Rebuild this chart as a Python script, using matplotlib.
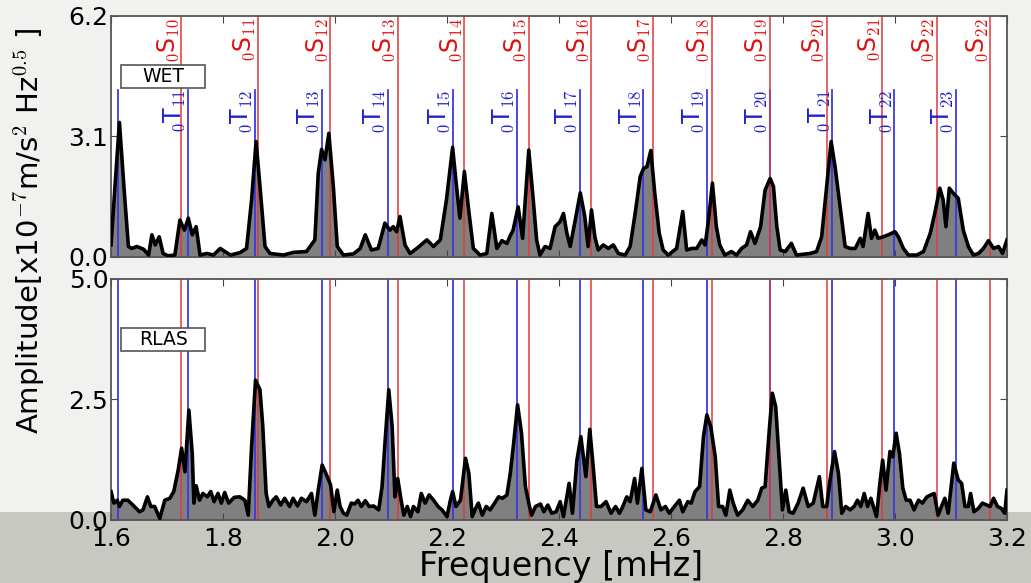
import matplotlib
matplotlib.use("Agg")
import matplotlib.pyplot as plt
from matplotlib.patches import Rectangle

plt.rcParams['mathtext.fontset'] = 'cm'

# WET spectrum (frequency in mHz, amplitude)
wet_freq = [
    1.600, 1.607, 1.615, 1.623, 1.631, 1.637, 1.646, 1.658, 1.667, 1.673,
    1.679, 1.686, 1.693, 1.702, 1.714, 1.723, 1.731, 1.738, 1.745, 1.752,
    1.759, 1.771, 1.783, 1.795, 1.813, 1.830, 1.842, 1.851, 1.859, 1.866,
    1.875, 1.884, 1.908, 1.926, 1.949, 1.964, 1.970, 1.976, 1.982, 1.989,
    1.997, 2.004, 2.015, 2.033, 2.045, 2.054, 2.065, 2.077, 2.089, 2.098,
    2.104, 2.110, 2.116, 2.125, 2.134, 2.146, 2.164, 2.176, 2.188, 2.199,
    2.210, 2.217, 2.223, 2.231, 2.238, 2.247, 2.259, 2.271, 2.280, 2.289,
    2.298, 2.307, 2.313, 2.318, 2.327, 2.335, 2.346, 2.354, 2.360, 2.366,
    2.375, 2.384, 2.393, 2.402, 2.408, 2.414, 2.420, 2.429, 2.438, 2.446,
    2.452, 2.458, 2.464, 2.470, 2.479, 2.488, 2.497, 2.506, 2.518, 2.527,
    2.536, 2.545, 2.551, 2.557, 2.564, 2.571, 2.579, 2.586, 2.595, 2.610,
    2.621, 2.628, 2.637, 2.646, 2.655, 2.661, 2.667, 2.674, 2.681, 2.687,
    2.696, 2.708, 2.717, 2.726, 2.735, 2.742, 2.750, 2.760, 2.768, 2.777,
    2.783, 2.789, 2.795, 2.804, 2.815, 2.824, 2.848, 2.860, 2.869, 2.878,
    2.886, 2.893, 2.902, 2.911, 2.920, 2.929, 2.938, 2.943, 2.952, 2.958,
    2.964, 2.970, 2.979, 2.988, 3.000, 3.006, 3.015, 3.024, 3.039, 3.051,
    3.063, 3.071, 3.080, 3.086, 3.091, 3.097, 3.104, 3.113, 3.122, 3.131,
    3.140, 3.149, 3.158, 3.167, 3.176, 3.185, 3.192, 3.200,
]
wet_amp = [
    0.31, 1.81, 3.46, 1.81, 0.27, 0.22, 0.27, 0.20, 0.05, 0.57,
    0.31, 0.52, 0.09, 0.03, 0.05, 0.95, 0.69, 1.00, 0.57, 0.78,
    0.05, 0.09, 0.05, 0.22, 0.05, 0.11, 0.22, 1.47, 2.97, 1.81,
    0.27, 0.09, 0.05, 0.12, 0.14, 0.44, 2.15, 2.77, 2.50, 3.18,
    1.81, 0.27, 0.05, 0.08, 0.22, 0.57, 0.18, 0.22, 0.87, 0.69,
    0.78, 0.65, 1.04, 0.31, 0.09, 0.22, 0.44, 0.27, 0.44, 1.47,
    2.82, 1.81, 1.00, 2.20, 1.29, 0.22, 0.05, 0.09, 1.12, 0.22,
    0.42, 0.35, 0.55, 0.69, 1.29, 0.48, 2.75, 1.47, 0.44, 0.05,
    0.27, 0.22, 0.78, 0.91, 1.12, 0.61, 0.27, 0.95, 1.65, 1.04,
    0.27, 1.21, 0.52, 0.18, 0.31, 0.22, 0.31, 0.09, 0.05, 0.27,
    1.12, 2.07, 2.28, 2.32, 2.74, 1.64, 0.61, 0.18, 0.05, 0.22,
    1.17, 0.18, 0.22, 0.22, 0.44, 0.31, 0.95, 1.90, 0.78, 0.31,
    0.05, 0.14, 0.05, 0.22, 0.31, 0.65, 0.35, 0.78, 1.72, 2.02,
    1.81, 0.78, 0.18, 0.14, 0.35, 0.05, 0.09, 0.14, 0.52, 1.81,
    2.97, 2.32, 1.29, 0.27, 0.22, 0.22, 0.48, 0.27, 1.12, 0.48,
    0.69, 0.48, 0.52, 0.57, 0.65, 0.52, 0.22, 0.05, 0.05, 0.14,
    0.61, 1.12, 1.77, 1.47, 0.78, 1.77, 1.64, 1.51, 0.69, 0.27,
    0.05, 0.09, 0.22, 0.42, 0.22, 0.27, 0.09, 0.44,
]

# RLAS spectrum
rlas_freq = [
    1.600, 1.605, 1.611, 1.615, 1.621, 1.630, 1.639, 1.651, 1.657, 1.665,
    1.671, 1.678, 1.687, 1.696, 1.705, 1.712, 1.720, 1.726, 1.732, 1.739,
    1.745, 1.748, 1.752, 1.758, 1.764, 1.772, 1.778, 1.784, 1.791, 1.797,
    1.803, 1.810, 1.820, 1.830, 1.839, 1.845, 1.851, 1.858, 1.866, 1.871,
    1.877, 1.882, 1.889, 1.895, 1.903, 1.910, 1.919, 1.925, 1.933, 1.940,
    1.949, 1.958, 1.964, 1.970, 1.977, 1.985, 1.992, 1.998, 2.004, 2.009,
    2.015, 2.021, 2.029, 2.035, 2.041, 2.047, 2.054, 2.061, 2.069, 2.078,
    2.084, 2.090, 2.096, 2.102, 2.107, 2.112, 2.118, 2.123, 2.129, 2.135,
    2.140, 2.148, 2.154, 2.161, 2.168, 2.176, 2.184, 2.191, 2.200, 2.206,
    2.210, 2.216, 2.224, 2.233, 2.239, 2.245, 2.251, 2.256, 2.263, 2.270,
    2.277, 2.285, 2.292, 2.299, 2.307, 2.313, 2.319, 2.326, 2.333, 2.340,
    2.346, 2.351, 2.358, 2.367, 2.373, 2.380, 2.387, 2.395, 2.402, 2.408,
    2.418, 2.424, 2.432, 2.439, 2.448, 2.455, 2.461, 2.467, 2.475, 2.484,
    2.493, 2.501, 2.508, 2.514, 2.521, 2.527, 2.535, 2.540, 2.548, 2.555,
    2.563, 2.573, 2.582, 2.590, 2.597, 2.606, 2.615, 2.621, 2.630, 2.636,
    2.643, 2.651, 2.658, 2.664, 2.671, 2.679, 2.685, 2.692, 2.698, 2.705,
    2.711, 2.719, 2.728, 2.737, 2.746, 2.755, 2.762, 2.768, 2.776, 2.781,
    2.787, 2.795, 2.799, 2.805, 2.811, 2.818, 2.827, 2.836, 2.845, 2.854,
    2.865, 2.871, 2.878, 2.884, 2.892, 2.899, 2.905, 2.912, 2.920, 2.927,
    2.933, 2.939, 2.945, 2.951, 2.957, 2.967, 2.973, 2.978, 2.984, 2.991,
    2.996, 3.002, 3.008, 3.014, 3.020, 3.027, 3.034, 3.042, 3.049, 3.057,
    3.064, 3.070, 3.077, 3.083, 3.089, 3.095, 3.105, 3.113, 3.119, 3.125,
    3.131, 3.135, 3.141, 3.149, 3.156, 3.164, 3.170, 3.176, 3.183, 3.190,
    3.196, 3.200,
]
rlas_amp = [
    0.59, 0.35, 0.41, 0.28, 0.41, 0.41, 0.31, 0.17, 0.21, 0.48,
    0.28, 0.28, 0.03, 0.41, 0.45, 0.59, 1.04, 1.49, 1.00, 2.28,
    1.38, 0.35, 0.71, 0.41, 0.55, 0.48, 0.59, 0.38, 0.55, 0.35,
    0.57, 0.35, 0.47, 0.48, 0.41, 0.10, 1.52, 2.90, 2.70, 1.94,
    0.55, 0.28, 0.41, 0.48, 0.31, 0.45, 0.28, 0.45, 0.29, 0.45,
    0.38, 0.55, 0.10, 0.62, 1.14, 0.93, 0.73, 0.17, 0.62, 0.28,
    0.14, 0.10, 0.35, 0.33, 0.41, 0.28, 0.40, 0.28, 0.29, 0.21,
    0.69, 1.73, 2.70, 1.94, 0.48, 0.86, 0.41, 0.10, 0.28, 0.07,
    0.28, 0.17, 0.55, 0.35, 0.52, 0.41, 0.28, 0.21, 0.07, 0.41,
    0.59, 0.28, 0.41, 1.28, 0.97, 0.07, 0.24, 0.35, 0.10, 0.28,
    0.21, 0.35, 0.48, 0.45, 0.52, 0.97, 1.59, 2.39, 1.80, 0.69,
    0.35, 0.10, 0.28, 0.33, 0.17, 0.31, 0.14, 0.17, 0.38, 0.07,
    0.76, 0.14, 1.24, 1.73, 0.90, 1.88, 1.11, 0.28, 0.28, 0.38,
    0.14, 0.28, 0.14, 0.28, 0.48, 0.38, 0.86, 0.35, 1.07, 0.21,
    0.17, 0.52, 0.21, 0.28, 0.14, 0.28, 0.41, 0.17, 0.38, 0.35,
    0.59, 0.69, 1.73, 2.18, 1.94, 1.31, 0.28, 0.28, 0.10, 0.62,
    0.35, 0.10, 0.21, 0.41, 0.28, 0.41, 0.66, 0.69, 1.94, 2.63,
    2.35, 0.90, 0.21, 0.62, 0.17, 0.14, 0.35, 0.66, 0.28, 0.35,
    0.90, 0.28, 0.28, 0.83, 1.42, 0.97, 0.14, 0.28, 0.21, 0.28,
    0.41, 0.28, 0.55, 0.28, 0.45, 0.07, 0.76, 1.24, 0.62, 1.42,
    1.31, 1.80, 1.38, 0.66, 0.41, 0.41, 0.21, 0.41, 0.35, 0.48,
    0.52, 0.55, 0.10, 0.28, 0.45, 0.14, 1.18, 0.83, 0.76, 0.28,
    0.28, 0.55, 0.17, 0.24, 0.35, 0.31, 0.28, 0.45, 0.28, 0.24,
    0.14, 0.62,
]

# spheroidal (red) and toroidal (blue) mode frequencies
s_freq = [1.7255, 1.8625, 1.9915, 2.1125, 2.231, 2.346, 2.458, 2.567,
          2.6725, 2.776, 2.878, 2.977, 3.075, 3.170]
s_names = ['10', '11', '12', '13', '14', '15', '16', '17', '18', '19',
           '20', '21', '22', '22']
t_freq = [1.613, 1.7375, 1.8565, 1.976, 2.094, 2.210, 2.325, 2.4375,
          2.5505, 2.6635, 2.776, 2.888, 2.999, 3.109]
t_names = ['', '11', '12', '13', '14', '15', '16', '17', '18', '19',
           '20', '21', '22', '23']

x_ticks = [1.6, 1.8, 2.0, 2.2, 2.4, 2.6, 2.8, 3.0, 3.2]
wet_yticks = [0.0, 3.1, 6.2]
rlas_yticks = [0.0, 2.5, 5.0]
t_line_top = 4.3

fig = plt.figure(figsize=(10.31, 5.83), dpi=100, facecolor='#f1f1ef')
fig.patches.append(Rectangle((0, 0), 1, 71 / 583, transform=fig.transFigure,
                             facecolor='#c8c8c2', edgecolor='none', zorder=-1))

ax1 = fig.add_axes([0.1077, 0.5592, 0.869, 0.4134])
ax2 = fig.add_axes([0.1077, 0.1081, 0.869, 0.4134])

red = '#e03a3a'
blue = '#3a3ae0'


def draw_panel(ax, freq, amp, ymax, yticks, name, blue_top):
    ax.set_xlim(1.6, 3.2)
    ax.set_ylim(0, ymax)
    ax.fill_between(freq, 0, amp, color='#808080', lw=0, zorder=1)
    for f in t_freq:
        ax.plot([f, f], [0, blue_top], color=blue, lw=1.3, zorder=2)
    for f in s_freq:
        ax.axvline(f, color=red, lw=1.3, alpha=0.85, zorder=2)
    ax.plot(freq, amp, color='black', lw=2.6, zorder=3)
    ax.set_xticks(x_ticks)
    ax.set_yticks(yticks)
    ax.set_yticklabels(['%.1f' % v for v in yticks])
    ax.tick_params(direction='in', top=True, right=True, length=5,
                   labelsize=18, color='#444444')
    ax.tick_params(axis='y', pad=2)
    ax.tick_params(axis='x', pad=5)
    for sp in ax.spines.values():
        sp.set_color('#555555')
        sp.set_linewidth(1.3)
    ax.add_patch(Rectangle((0.011, 0.70), 0.094, 0.095, transform=ax.transAxes,
                           facecolor='white', edgecolor='#555555', lw=1.2,
                           zorder=4))
    ax.text(0.058, 0.748, name, transform=ax.transAxes, ha='center',
            va='center', fontsize=13.5, zorder=5)


draw_panel(ax1, wet_freq, wet_amp, 6.2, wet_yticks, 'WET', t_line_top)
draw_panel(ax2, rlas_freq, rlas_amp, 5.0, rlas_yticks, 'RLAS', 5.0)
ax1.set_xticklabels([])
ax2.set_xticklabels(['%.1f' % v for v in x_ticks])

for f, n in zip(s_freq, s_names):
    ax1.text(f - 0.001, 6.15, r'$_0$S$_{%s}$' % n, color='#e01010', rotation=90,
             ha='right', va='top', fontsize=17, zorder=4)
for f, n in zip(t_freq, t_names):
    if n:
        ax1.text(f - 0.001, t_line_top, r'$_0$T$_{%s}$' % n, color='#2020d0',
                 rotation=90, ha='right', va='top', fontsize=17, zorder=4)

fig.text(0.029, 0.604, r'Amplitude[x10$^{-7}$m/s$^2$ Hz$^{0.5}$ ]',
         rotation=90, ha='center', va='center', fontsize=21)
fig.text(0.544, 0.012, 'Frequency [mHz]', ha='center', va='baseline',
         fontsize=24)

fig.savefig('out.png', dpi=100, facecolor=fig.get_facecolor())
